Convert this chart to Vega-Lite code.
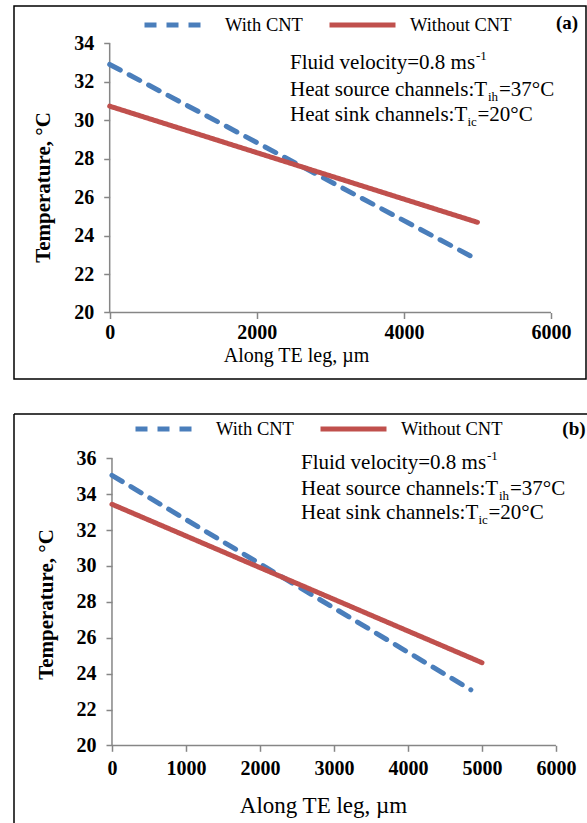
{
  "$schema": "https://vega.github.io/schema/vega-lite/v6.json",
  "padding": {"left": 13, "top": 5, "right": 0, "bottom": 0},
  "spacing": 35,
  "bounds": "flush",
  "background": "white",
  "resolve": {
    "scale": {"color": "independent", "strokeDash": "independent"},
    "legend": {"color": "independent", "strokeDash": "independent"}
  },
  "datasets": {
    "a_lines": [
      {"series": "With CNT", "x": 0, "t": 32.9},
      {"series": "With CNT", "x": 4950, "t": 22.85},
      {"series": "Without CNT", "x": 0, "t": 30.73},
      {"series": "Without CNT", "x": 5000, "t": 24.69}
    ],
    "a_text": [
      {"x": 2451, "t": 32.97, "label": "Fluid velocity=0.8 ms"},
      {"x": 2451, "t": 31.57, "label": "Heat source channels:T"},
      {"x": 2451, "t": 30.27, "label": "Heat sink channels:T"},
      {"x": 5293, "t": 31.57, "label": "=37°C"},
      {"x": 5001, "t": 30.27, "label": "=20°C"}
    ],
    "a_sup": [{"x": 4980, "t": 32.97, "label": "-1"}],
    "a_sub": [
      {"x": 5143, "t": 31.57, "label": "ih"},
      {"x": 4865, "t": 30.27, "label": "ic"}
    ],
    "a_tag": [{"x": 6218, "t": 35.06, "label": "(a)"}],
    "b_lines": [
      {"series": "With CNT", "x": 0, "t": 35.05},
      {"series": "With CNT", "x": 4850, "t": 23.1},
      {"series": "Without CNT", "x": 0, "t": 33.44},
      {"series": "Without CNT", "x": 5000, "t": 24.61}
    ],
    "b_text": [
      {"x": 2554, "t": 35.74, "label": "Fluid velocity=0.8 ms"},
      {"x": 2554, "t": 34.29, "label": "Heat source channels:T"},
      {"x": 2554, "t": 32.95, "label": "Heat sink channels:T"},
      {"x": 5378, "t": 34.29, "label": "=37°C"},
      {"x": 5088, "t": 32.95, "label": "=20°C"}
    ],
    "b_sup": [{"x": 5068, "t": 35.74, "label": "-1"}],
    "b_sub": [
      {"x": 5230, "t": 34.29, "label": "ih"},
      {"x": 4953, "t": 32.95, "label": "ic"}
    ],
    "b_tag": [{"x": 6243, "t": 37.63, "label": "(b)"}]
  },
  "config": {
    "font": "Liberation Serif",
    "view": {"stroke": "black", "strokeWidth": 1.5},
    "axis": {
      "domain": false,
      "grid": false,
      "tickColor": "#868686",
      "tickWidth": 1.5,
      "tickSize": 6,
      "labelFont": "Liberation Serif",
      "labelFontWeight": "bold",
      "labelFontSize": 20,
      "labelColor": "black",
      "labelFlush": false,
      "labelOverlap": false,
      "titleFont": "Liberation Serif",
      "titleColor": "black"
    },
    "legend": {
      "labelFont": "Liberation Serif",
      "labelFontSize": 18.5,
      "labelColor": "black"
    }
  },
  "vconcat": [
    {
      "width": 572,
      "height": 373,
      "layer": [
        {
          "data": {"values": [{}]},
          "mark": {"type": "rule", "color": "#868686", "strokeWidth": 1.5},
          "encoding": {"x": {"datum": 0}, "x2": {"datum": 6000}, "y": {"datum": 20}}
        },
        {
          "data": {"values": [{}]},
          "mark": {"type": "rule", "color": "#868686", "strokeWidth": 1.5},
          "encoding": {"x": {"datum": 0}, "y": {"datum": 20}, "y2": {"datum": 34}}
        },
        {
          "data": {"name": "a_lines"},
          "mark": {"type": "line", "strokeWidth": 5, "strokeCap": "round"},
          "encoding": {
            "x": {
              "field": "x", "type": "quantitative",
              "scale": {"domain": [-1301, 6476], "nice": false, "zero": false},
              "axis": {
                "values": [0, 2000, 4000, 6000], "format": "d", "offset": -66.5,
                "labelFont": "Liberation Serif", "titleFont": "Liberation Serif",
                "title": "Along TE leg, µm", "titleFontSize": 20, "titleFontWeight": "normal",
                "titleX": 282, "titleY": 43, "titleBaseline": "middle", "titleAlign": "center", "labelPadding": 4
              }
            },
            "y": {
              "field": "t", "type": "quantitative",
              "scale": {"domain": [16.54, 35.94], "nice": false, "zero": false},
              "axis": {
                "values": [20, 22, 24, 26, 28, 30, 32, 34], "offset": -95.7,
                "labelFont": "Liberation Serif", "titleFont": "Liberation Serif",
                "title": "Temperature, °C", "titleFontSize": 21, "titleFontWeight": "bold",
                "titleAngle": -90, "titleX": -66, "titleY": 181, "titleBaseline": "middle", "titleAlign": "center",
                "labelPadding": 10
              }
            },
            "color": {
              "field": "series", "type": "nominal",
              "scale": {"domain": ["With CNT", "Without CNT"], "range": ["#4A7EBB", "#C0504D"]},
              "legend": {
                "orient": "none", "legendX": 128, "legendY": 9, "direction": "horizontal", "title": null,
                "symbolType": "stroke", "symbolSize": 4356, "symbolStrokeWidth": 5, "clipHeight": 20,
                "labelOffset": 12, "columnPadding": 24, "padding": 0
              }
            },
            "strokeDash": {
              "field": "series", "type": "nominal",
              "scale": {"domain": ["With CNT", "Without CNT"], "range": [[12, 10], [1, 0]]},
              "legend": {
                "orient": "none", "legendX": 128, "legendY": 9, "direction": "horizontal", "title": null,
                "symbolType": "stroke", "symbolSize": 4356, "symbolStrokeWidth": 5, "clipHeight": 20,
                "labelOffset": 12, "columnPadding": 24, "padding": 0
              }
            }
          }
        },
        {
          "data": {"name": "a_text"},
          "mark": {"type": "text", "align": "left", "baseline": "middle", "font": "Liberation Serif", "fontSize": 21, "color": "black"},
          "encoding": {"x": {"field": "x", "type": "quantitative"}, "y": {"field": "t", "type": "quantitative"}, "text": {"field": "label"}}
        },
        {
          "data": {"name": "a_sup"},
          "mark": {"type": "text", "align": "left", "baseline": "middle", "font": "Liberation Serif", "fontSize": 13, "dy": -7, "color": "black"},
          "encoding": {"x": {"field": "x", "type": "quantitative"}, "y": {"field": "t", "type": "quantitative"}, "text": {"field": "label"}}
        },
        {
          "data": {"name": "a_sub"},
          "mark": {"type": "text", "align": "left", "baseline": "middle", "font": "Liberation Serif", "fontSize": 13, "dy": 7, "color": "black"},
          "encoding": {"x": {"field": "x", "type": "quantitative"}, "y": {"field": "t", "type": "quantitative"}, "text": {"field": "label"}}
        },
        {
          "data": {"name": "a_tag"},
          "mark": {"type": "text", "align": "center", "baseline": "middle", "font": "Liberation Serif", "fontSize": 19, "fontWeight": "bold", "color": "black"},
          "encoding": {"x": {"field": "x", "type": "quantitative"}, "y": {"field": "t", "type": "quantitative"}, "text": {"field": "label"}}
        }
      ]
    },
    {
      "width": 574,
      "height": 410,
      "view": {"stroke": null},
      "layer": [
        {
          "data": {"values": [{}]},
          "mark": {"type": "rule", "color": "black", "strokeWidth": 1.5},
          "encoding": {"x": {"datum": -1324}, "y": {"datum": 15.62}, "y2": {"datum": 38.47}}
        },
        {
          "data": {"values": [{}]},
          "mark": {"type": "rule", "color": "black", "strokeWidth": 1.5},
          "encoding": {"x": {"datum": -1324}, "x2": {"datum": 6433}, "y": {"datum": 38.47}}
        },
        {
          "data": {"values": [{}]},
          "mark": {"type": "rule", "color": "#868686", "strokeWidth": 1.5},
          "encoding": {"x": {"datum": 0}, "x2": {"datum": 6000}, "y": {"datum": 20}}
        },
        {
          "data": {"values": [{}]},
          "mark": {"type": "rule", "color": "#868686", "strokeWidth": 1.5},
          "encoding": {"x": {"datum": 0}, "y": {"datum": 20}, "y2": {"datum": 36}}
        },
        {
          "data": {"name": "b_lines"},
          "mark": {"type": "line", "strokeWidth": 5, "strokeCap": "round"},
          "encoding": {
            "x": {
              "field": "x", "type": "quantitative",
              "scale": {"domain": [-1324, 6433], "nice": false, "zero": false},
              "axis": {
                "values": [0, 1000, 2000, 3000, 4000, 5000, 6000], "format": "d", "offset": -78.7,
                "labelFont": "Liberation Serif", "titleFont": "Liberation Serif",
                "title": "Along TE leg, µm", "titleFontSize": 23, "titleFontWeight": "normal",
                "titleX": 309, "titleY": 60, "titleBaseline": "middle", "titleAlign": "center", "labelPadding": 7
              }
            },
            "y": {
              "field": "t", "type": "quantitative",
              "scale": {"domain": [15.62, 38.47], "nice": false, "zero": false},
              "axis": {
                "values": [20, 22, 24, 26, 28, 30, 32, 34, 36], "offset": -98,
                "labelFont": "Liberation Serif", "titleFont": "Liberation Serif",
                "title": "Temperature, °C", "titleFontSize": 21, "titleFontWeight": "bold",
                "titleAngle": -90, "titleX": -66, "titleY": 190, "titleBaseline": "middle", "titleAlign": "center",
                "labelPadding": 10
              }
            },
            "color": {
              "field": "series", "type": "nominal",
              "scale": {"domain": ["With CNT", "Without CNT"], "range": ["#4A7EBB", "#C0504D"]},
              "legend": {
                "orient": "none", "legendX": 119, "legendY": 5, "direction": "horizontal", "title": null,
                "symbolType": "stroke", "symbolSize": 4356, "symbolStrokeWidth": 5, "clipHeight": 20,
                "labelOffset": 12, "columnPadding": 24, "padding": 0
              }
            },
            "strokeDash": {
              "field": "series", "type": "nominal",
              "scale": {"domain": ["With CNT", "Without CNT"], "range": [[12, 10], [1, 0]]},
              "legend": {
                "orient": "none", "legendX": 119, "legendY": 5, "direction": "horizontal", "title": null,
                "symbolType": "stroke", "symbolSize": 4356, "symbolStrokeWidth": 5, "clipHeight": 20,
                "labelOffset": 12, "columnPadding": 24, "padding": 0
              }
            }
          }
        },
        {
          "data": {"name": "b_text"},
          "mark": {"type": "text", "align": "left", "baseline": "middle", "font": "Liberation Serif", "fontSize": 21, "color": "black"},
          "encoding": {"x": {"field": "x", "type": "quantitative"}, "y": {"field": "t", "type": "quantitative"}, "text": {"field": "label"}}
        },
        {
          "data": {"name": "b_sup"},
          "mark": {"type": "text", "align": "left", "baseline": "middle", "font": "Liberation Serif", "fontSize": 13, "dy": -7, "color": "black"},
          "encoding": {"x": {"field": "x", "type": "quantitative"}, "y": {"field": "t", "type": "quantitative"}, "text": {"field": "label"}}
        },
        {
          "data": {"name": "b_sub"},
          "mark": {"type": "text", "align": "left", "baseline": "middle", "font": "Liberation Serif", "fontSize": 13, "dy": 7, "color": "black"},
          "encoding": {"x": {"field": "x", "type": "quantitative"}, "y": {"field": "t", "type": "quantitative"}, "text": {"field": "label"}}
        },
        {
          "data": {"name": "b_tag"},
          "mark": {"type": "text", "align": "center", "baseline": "middle", "font": "Liberation Serif", "fontSize": 19, "fontWeight": "bold", "color": "black"},
          "encoding": {"x": {"field": "x", "type": "quantitative"}, "y": {"field": "t", "type": "quantitative"}, "text": {"field": "label"}}
        }
      ]
    }
  ]
}
